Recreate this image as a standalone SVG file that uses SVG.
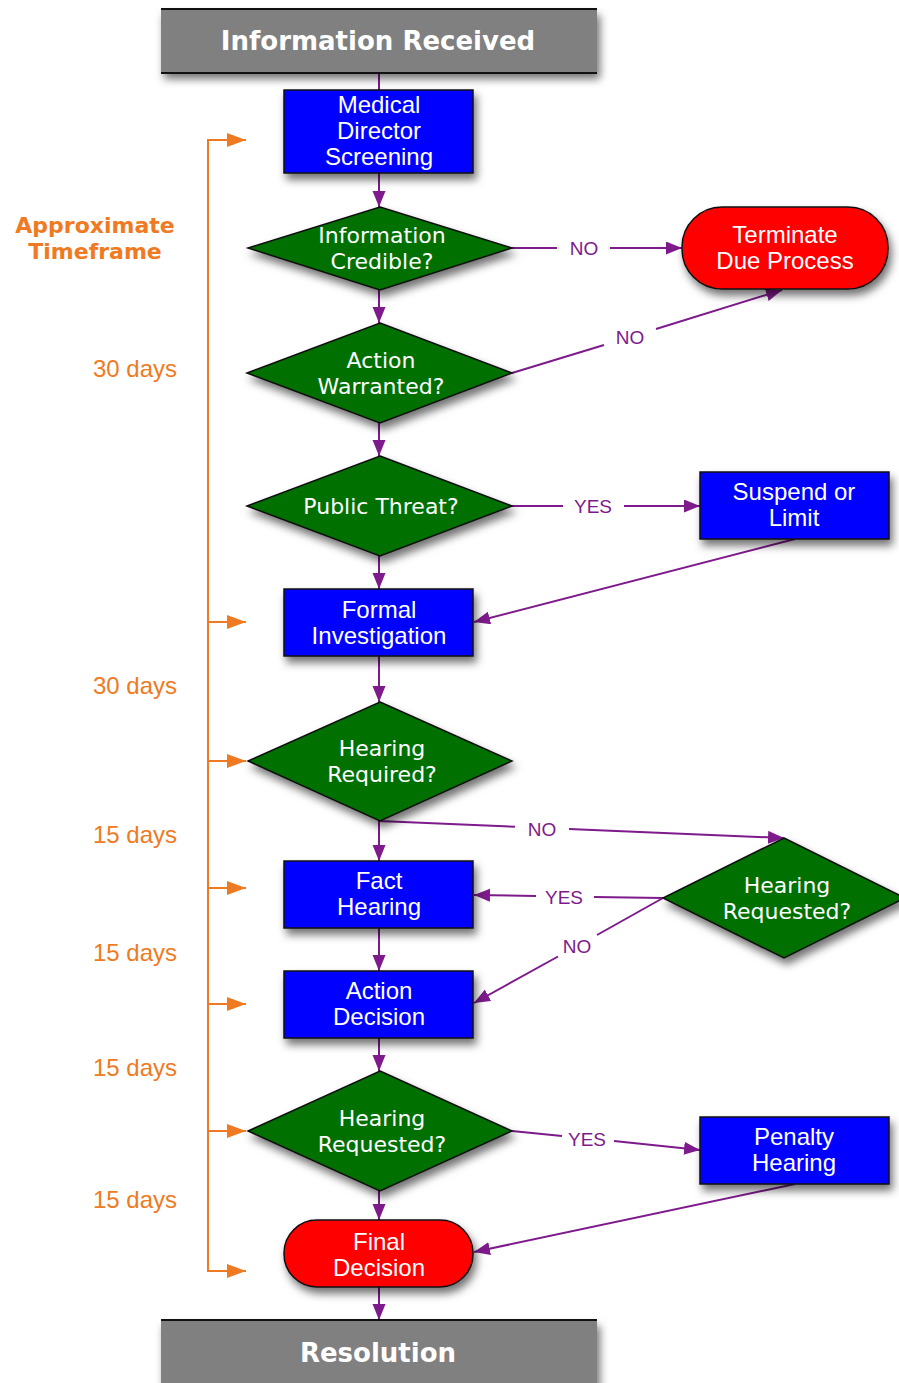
<svg xmlns="http://www.w3.org/2000/svg" width="899" height="1383" viewBox="0 0 899 1383">
<style>
.bar{fill:#808080}
.barline{stroke:#111;stroke-width:2}
.box{fill:#0000FF;stroke:#111;stroke-width:1.5}
.dia{fill:#006F00;stroke:#111;stroke-width:1.5}
.term{fill:#FF0000;stroke:#111;stroke-width:1.5}
.bt{font-family:"Liberation Sans",Arial,sans-serif;font-size:24px;fill:#fff;text-anchor:middle}
.dt{font-family:"DejaVu Sans",Verdana,sans-serif;font-size:22px;fill:#fff;text-anchor:middle}
.ht{font-family:"DejaVu Sans",Verdana,sans-serif;font-size:26px;font-weight:bold;fill:#fff;text-anchor:middle}
.el{font-family:"Liberation Sans",Arial,sans-serif;font-size:19px;fill:#7E1A8C;text-anchor:middle}
.days{font-family:"Liberation Sans",Arial,sans-serif;font-size:24px;fill:#EF7A22;text-anchor:end}
.tf{font-family:"DejaVu Sans",Verdana,sans-serif;font-size:22px;font-weight:bold;fill:#EF7A22;text-anchor:middle}
.c{stroke:#7E1A8C;stroke-width:2;fill:none}
.ca{stroke:#7E1A8C;stroke-width:2;fill:none;marker-end:url(#ap)}
.o{stroke:#EF7A22;stroke-width:2;fill:none}
.oa{stroke:#EF7A22;stroke-width:2;fill:none;marker-end:url(#ao)}
</style>
<defs>
<marker id="ap" markerUnits="userSpaceOnUse" markerWidth="18" markerHeight="14" refX="16" refY="6.5" orient="auto"><path d="M0,0 L16,6.5 L0,13 z" fill="#7E1A8C"/></marker>
<marker id="ao" markerUnits="userSpaceOnUse" markerWidth="20" markerHeight="16" refX="19" refY="7" orient="auto"><path d="M0,0 L19,7 L0,14 z" fill="#EF7A22"/></marker>
<filter id="sh" x="-20%" y="-20%" width="150%" height="160%"><feDropShadow dx="3" dy="6" stdDeviation="4" flood-color="#000" flood-opacity="0.55"/></filter>
</defs>

<g id="timeframe">
<text class="tf" x="95" y="233">Approximate</text>
<text class="tf" x="95" y="259">Timeframe</text>
<text class="days" x="177" y="377">30 days</text>
<text class="days" x="177" y="694">30 days</text>
<text class="days" x="177" y="843">15 days</text>
<text class="days" x="177" y="961">15 days</text>
<text class="days" x="177" y="1076">15 days</text>
<text class="days" x="177" y="1208">15 days</text>
<path class="o" d="M208,140 V1271"/>
<path class="oa" d="M207,140 H246"/>
<path class="oa" d="M208,622 H246"/>
<path class="oa" d="M208,761 H246"/>
<path class="oa" d="M208,888 H246"/>
<path class="oa" d="M208,1004 H246"/>
<path class="oa" d="M208,1131 H246"/>
<path class="oa" d="M207,1271 H246"/>
</g>

<g id="connectors">
<path class="c" d="M379,74 V90"/>
<path class="ca" d="M379,173 V207"/>
<path class="ca" d="M379,290 V323"/>
<path class="ca" d="M379,423 V456"/>
<path class="ca" d="M379,556 V589"/>
<path class="ca" d="M379,656 V702"/>
<path class="ca" d="M379,821 V861"/>
<path class="ca" d="M379,928 V971"/>
<path class="ca" d="M379,1038 V1071"/>
<path class="ca" d="M379,1191 V1220"/>
<path class="ca" d="M379,1287 V1320"/>
<path class="c" d="M512,248 H557"/>
<path class="ca" d="M610,248 H682"/>
<text class="el" x="584" y="255">NO</text>
<path class="c" d="M512,373 L604,345"/>
<path class="ca" d="M656,329 L782,290"/>
<text class="el" x="630" y="344">NO</text>
<path class="c" d="M512,506 H563"/>
<path class="ca" d="M624,506 H700"/>
<text class="el" x="593" y="513">YES</text>
<path class="ca" d="M795,539 L474,622"/>
<path class="c" d="M379,821 L515,826.7"/>
<path class="ca" d="M569,829 L784,838"/>
<text class="el" x="542" y="836">NO</text>
<path class="c" d="M663,898 L594,897"/>
<path class="ca" d="M536,896 L474,895"/>
<text class="el" x="564" y="904">YES</text>
<path class="c" d="M663,898 L597,935"/>
<path class="ca" d="M558,956.5 L474,1003"/>
<text class="el" x="577" y="953">NO</text>
<path class="c" d="M512,1131 L562,1136"/>
<path class="ca" d="M614,1141 L700,1150"/>
<text class="el" x="587" y="1146">YES</text>
<path class="ca" d="M795,1184 L474,1252"/>
</g>

<g id="info-received">
<rect class="bar" x="161" y="9" width="436" height="64" filter="url(#sh)"/>
<path class="barline" d="M161,9 H597 M161,73 H597"/>
<text class="ht" x="378" y="50">Information Received</text>
</g>

<g id="medical-director-screening">
<rect class="box" x="284" y="90" width="189" height="83" filter="url(#sh)"/>
<text class="bt" x="379" y="113">Medical</text>
<text class="bt" x="379" y="139">Director</text>
<text class="bt" x="379" y="165">Screening</text>
</g>

<g id="information-credible">
<polygon class="dia" points="380,207 512,248 380,290 248,248" filter="url(#sh)"/>
<text class="dt" x="382" y="243">Information</text>
<text class="dt" x="382" y="269">Credible?</text>
</g>

<g id="terminate-due-process">
<rect class="term" x="682" y="207" width="206" height="82" rx="40" ry="40" filter="url(#sh)"/>
<text class="bt" x="785" y="243">Terminate</text>
<text class="bt" x="785" y="269">Due Process</text>
</g>

<g id="action-warranted">
<polygon class="dia" points="380,323 512,373 380,423 247,373" filter="url(#sh)"/>
<text class="dt" x="381" y="368">Action</text>
<text class="dt" x="381" y="394">Warranted?</text>
</g>

<g id="public-threat">
<polygon class="dia" points="380,456 512,506 380,556 247,506" filter="url(#sh)"/>
<text class="dt" x="381" y="514">Public Threat?</text>
</g>

<g id="suspend-or-limit">
<rect class="box" x="700" y="472" width="189" height="67" filter="url(#sh)"/>
<text class="bt" x="794" y="500">Suspend or</text>
<text class="bt" x="794" y="526">Limit</text>
</g>

<g id="formal-investigation">
<rect class="box" x="284" y="589" width="189" height="67" filter="url(#sh)"/>
<text class="bt" x="379" y="618">Formal</text>
<text class="bt" x="379" y="644">Investigation</text>
</g>

<g id="hearing-required">
<polygon class="dia" points="380,702 512,761 380,821 248,761" filter="url(#sh)"/>
<text class="dt" x="382" y="756">Hearing</text>
<text class="dt" x="382" y="782">Required?</text>
</g>

<g id="hearing-requested-1">
<polygon class="dia" points="784,838 905,898 784,958 663,898" filter="url(#sh)"/>
<text class="dt" x="787" y="893">Hearing</text>
<text class="dt" x="787" y="919">Requested?</text>
</g>

<g id="fact-hearing">
<rect class="box" x="284" y="861" width="189" height="67" filter="url(#sh)"/>
<text class="bt" x="379" y="889">Fact</text>
<text class="bt" x="379" y="915">Hearing</text>
</g>

<g id="action-decision">
<rect class="box" x="284" y="971" width="189" height="67" filter="url(#sh)"/>
<text class="bt" x="379" y="999">Action</text>
<text class="bt" x="379" y="1025">Decision</text>
</g>

<g id="hearing-requested-2">
<polygon class="dia" points="380,1071 512,1131 380,1191 248,1131" filter="url(#sh)"/>
<text class="dt" x="382" y="1126">Hearing</text>
<text class="dt" x="382" y="1152">Requested?</text>
</g>

<g id="penalty-hearing">
<rect class="box" x="700" y="1117" width="189" height="67" filter="url(#sh)"/>
<text class="bt" x="794" y="1145">Penalty</text>
<text class="bt" x="794" y="1171">Hearing</text>
</g>

<g id="final-decision">
<rect class="term" x="284" y="1220" width="189" height="67" rx="33" ry="33" filter="url(#sh)"/>
<text class="bt" x="379" y="1250">Final</text>
<text class="bt" x="379" y="1276">Decision</text>
</g>

<g id="resolution">
<rect class="bar" x="161" y="1320" width="436" height="70" filter="url(#sh)"/>
<path class="barline" d="M161,1320 H597"/>
<text class="ht" x="378" y="1362">Resolution</text>
</g>
</svg>
